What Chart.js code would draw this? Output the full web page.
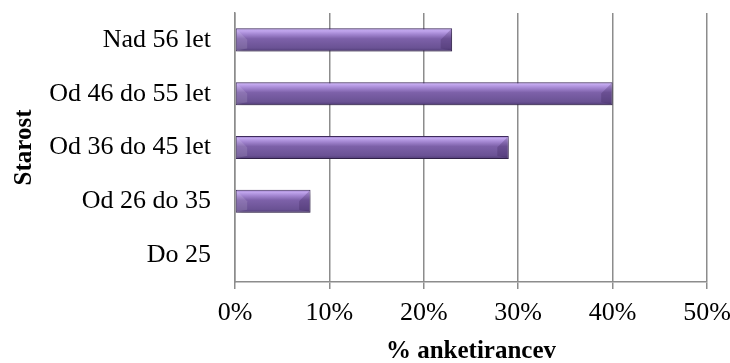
<!DOCTYPE html>
<html>
<head>
<meta charset="utf-8">
<script src="https://cdn.jsdelivr.net/npm/chart.js@4/dist/chart.umd.min.js"></script>
<style>
    html, body { margin: 0; padding: 0; background: #fff; }
    #wrap { width: 730px; height: 363px; }
</style>
</head>
<body>
<div id="wrap"><canvas id="myChart"></canvas></div>
<script>
const categories = ['Nad 56 let', 'Od 46 do 55 let', 'Od 36 do 45 let', 'Od 26 do 35', 'Do 25'];
const values = [23, 40, 29, 8, 0];
const xTicks = [0, 10, 20, 30, 40, 50];

const font = 'Liberation Serif';
const gridColor = '#8c8c8c';
const barPct = 0.86;
const catPct = 0.5;

// vertical gradient for each bar, worked out from the y scale
const barFill = (c) => {
    const chart = c.chart;
    const area = chart.chartArea;
    if (!area || c.type !== 'data') return '#7a5ea6';
    const yScale = chart.scales.y;
    const band = (area.bottom - area.top) / categories.length;
    const h = band * barPct * catPct;
    const top = yScale.getPixelForValue(c.dataIndex) - h / 2;
    const g = chart.ctx.createLinearGradient(0, top, 0, top + h);
    g.addColorStop(0, '#8a6db8');
    g.addColorStop(0.1, '#c2a7ee');
    g.addColorStop(0.25, '#a487d2');
    g.addColorStop(0.45, '#7d61a9');
    g.addColorStop(0.85, '#6a5294');
    g.addColorStop(1, '#4e3a74');
    return g;
};

// drop shadow under the bars + small bevel at the bar ends
const barLook = {
    id: 'barLook',
    beforeDatasetsDraw(chart) {
        const ctx = chart.ctx;
        ctx.save();
        ctx.shadowColor = 'rgba(0,0,0,0.3)';
        ctx.shadowBlur = 5;
        ctx.shadowOffsetX = 2;
        ctx.shadowOffsetY = 3;
    },
    afterDatasetsDraw(chart) {
        const ctx = chart.ctx;
        ctx.restore();
        chart.getDatasetMeta(0).data.forEach((bar) => {
            const p = bar.getProps(['x', 'y', 'base', 'height'], true);
            const w = p.x - p.base;
            if (w < 4) return;
            const top = p.y - p.height / 2 + 1;
            const bot = p.y + p.height / 2 - 1;
            const b = Math.min(p.height * 0.45, w / 2);
            ctx.save();
            // left end, lighter
            ctx.fillStyle = 'rgba(255,255,255,0.12)';
            ctx.beginPath();
            ctx.moveTo(p.base + 1, top);
            ctx.lineTo(p.base + 1 + b, top + b);
            ctx.lineTo(p.base + 1 + b, bot - 2);
            ctx.lineTo(p.base + 1, bot);
            ctx.closePath();
            ctx.fill();
            // right end, darker
            ctx.fillStyle = 'rgba(40,20,70,0.22)';
            ctx.beginPath();
            ctx.moveTo(p.x - 1, top);
            ctx.lineTo(p.x - 1 - b, top + b);
            ctx.lineTo(p.x - 1 - b, bot - 2);
            ctx.lineTo(p.x - 1, bot);
            ctx.closePath();
            ctx.fill();
            ctx.restore();
        });
    },
};

new Chart(document.getElementById('myChart'), {
    type: 'bar',
    data: {
        labels: categories,
        datasets: [
            {
                data: values,
                backgroundColor: barFill,
                borderColor: '#3f2c5e',
                borderWidth: 1,
                borderSkipped: false,
                barPercentage: barPct,
                categoryPercentage: catPct,
            },
        ],
    },
    options: {
        indexAxis: 'y',
        responsive: true,
        maintainAspectRatio: false,
        animation: false,
        layout: { padding: { top: 13, right: 23, left: 0, bottom: 0 } },
        plugins: {
            legend: { display: false },
            tooltip: { enabled: false },
        },
        scales: {
            x: {
                min: 0,
                max: 50,
                afterBuildTicks: (scale) => {
                    scale.ticks = xTicks.map((v) => ({ value: v }));
                },
                afterFit: (scale) => {
                    scale.height = 81;
                    scale.paddingLeft = 0;
                    scale.paddingRight = 0;
                },
                grid: { color: gridColor, lineWidth: 1.5, tickLength: 7, drawTicks: true },
                border: { color: gridColor, width: 1.5 },
                ticks: {
                    color: '#000',
                    padding: 9,
                    font: { family: font, size: 26 },
                    callback: (v) => v + '%',
                },
                title: {
                    display: true,
                    text: '% anketirancev',
                    color: '#000',
                    padding: { top: 0, bottom: -4 },
                    font: { family: font, size: 25, weight: 'bold' },
                },
            },
            y: {
                afterFit: (scale) => {
                    scale.width = 235;
                    scale.paddingTop = 0;
                    scale.paddingBottom = 0;
                },
                grid: { display: false },
                border: { color: gridColor, width: 1.5 },
                ticks: {
                    color: '#000',
                    padding: 16,
                    font: { family: font, size: 26 },
                },
                title: {
                    display: true,
                    text: 'Starost',
                    color: '#000',
                    padding: { top: 10, bottom: 0 },
                    font: { family: font, size: 25, weight: 'bold' },
                },
            },
        },
    },
    plugins: [barLook],
});
</script>
</body>
</html>
